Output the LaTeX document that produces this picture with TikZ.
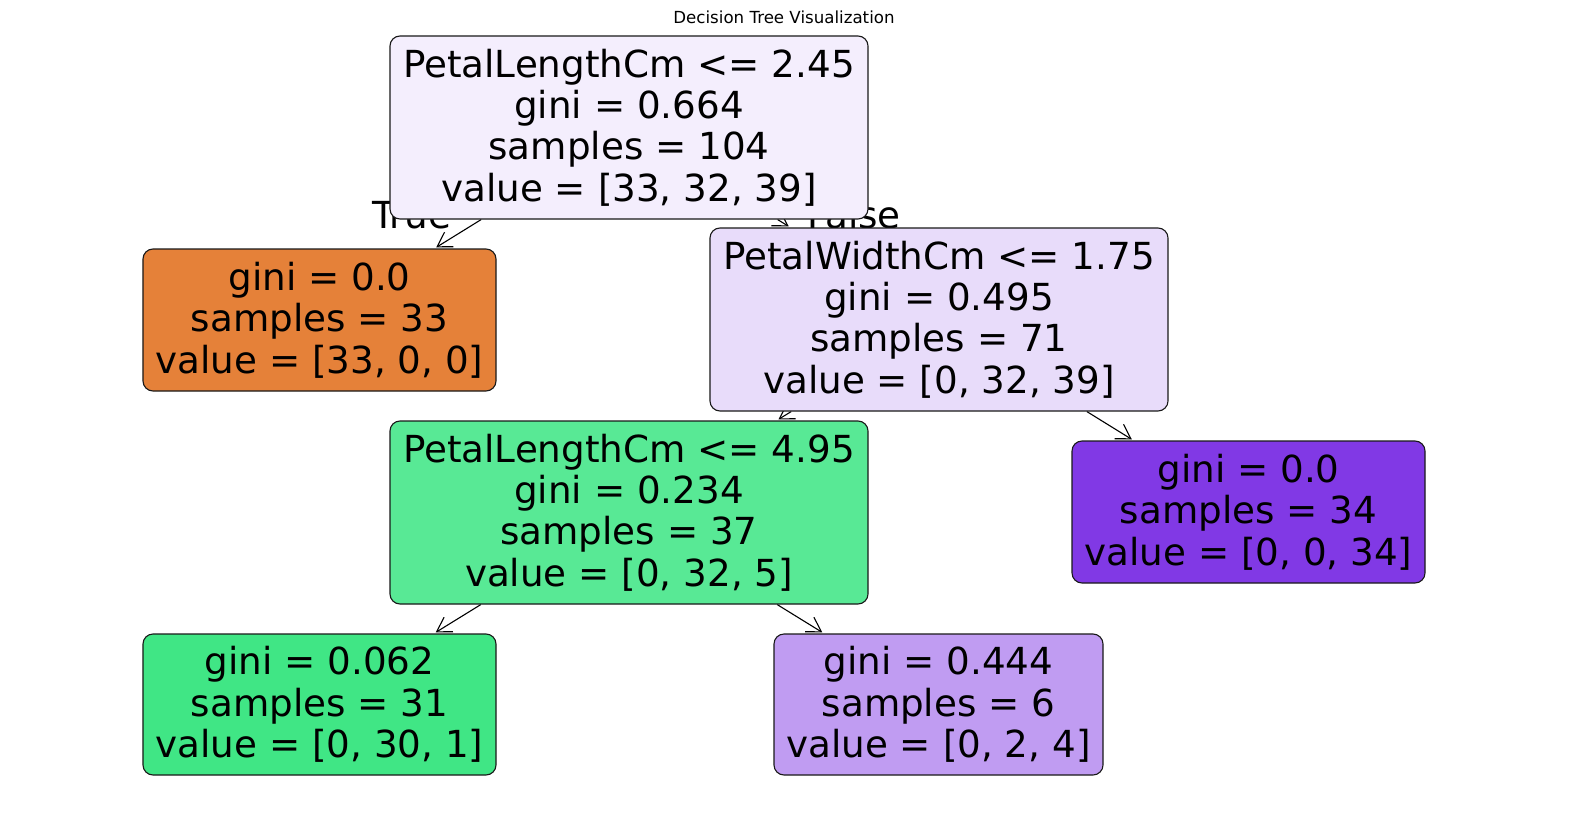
\documentclass[tikz,border=0pt]{standalone}
\usepackage{fontspec}
\setmainfont{DejaVu Sans}
\usetikzlibrary{arrows.meta,backgrounds}
\definecolor{cRoot}{HTML}{F4EEFD}
\definecolor{cOrange}{HTML}{E58139}
\definecolor{cPW}{HTML}{E8DCFA}
\definecolor{cGreenA}{HTML}{58E995}
\definecolor{cGreenB}{HTML}{40E685}
\definecolor{cPurple}{HTML}{8139E5}
\definecolor{cLilac}{HTML}{C09CF2}
\begin{document}
\begin{tikzpicture}[x=1bp,y=-1bp,
  box/.style={draw=black!90, line width=1.1bp, rounded corners=10bp, align=center,
    inner sep=0pt, text=black, font=\fontsize{37.4}{41.5}\selectfont},
  lbl/.style={inner sep=0pt, font=\fontsize{37.4}{41.5}\selectfont},
  edge/.style={-{Straight Barb[length=14bp,width=17bp]}, line width=1.1bp, shorten >=2bp}]
\useasboundingbox (0,0) rectangle (1570,812);
\node[font=\fontsize{16.7}{20}\selectfont, anchor=base, inner sep=0pt] (title) at (784,24) {Decision Tree Visualization};
\node[box, fill=cRoot, minimum width=478bp, minimum height=183bp] (root) at (629,127.5)
  {PetalLengthCm <= 2.45\\gini = 0.664\\samples = 104\\value = [33, 32, 39]};
\node[box, fill=cOrange, minimum width=353bp, minimum height=142bp] (leafA) at (319.5,320)
  {gini = 0.0\\samples = 33\\value = [33, 0, 0]};
\node[box, fill=cPW, minimum width=458bp, minimum height=183bp] (pw) at (939,319.5)
  {PetalWidthCm <= 1.75\\gini = 0.495\\samples = 71\\value = [0, 32, 39]};
\node[box, fill=cGreenA, minimum width=478bp, minimum height=183bp] (pl) at (629,512.5)
  {PetalLengthCm <= 4.95\\gini = 0.234\\samples = 37\\value = [0, 32, 5]};
\node[box, fill=cPurple, minimum width=353bp, minimum height=142bp] (leafB) at (1248.5,512)
  {gini = 0.0\\samples = 34\\value = [0, 0, 34]};
\node[box, fill=cGreenB, minimum width=353bp, minimum height=141bp] (leafC) at (319.5,704.5)
  {gini = 0.062\\samples = 31\\value = [0, 30, 1]};
\node[box, fill=cLilac, minimum width=329bp, minimum height=141bp] (leafD) at (938.5,704.5)
  {gini = 0.444\\samples = 6\\value = [0, 2, 4]};
\begin{scope}[on background layer]
\node[lbl, anchor=base west] (tlab) at (372,228) {True};
\node[lbl, anchor=base east] (flab) at (901,228) {False};
\draw[edge] (root) -- (leafA);
\draw[edge] (root) -- (pw);
\draw[edge] (pw) -- (pl);
\draw[edge] (pw) -- (leafB);
\draw[edge] (pl) -- (leafC);
\draw[edge] (pl) -- (leafD);
\end{scope}
\end{tikzpicture}
\end{document}
